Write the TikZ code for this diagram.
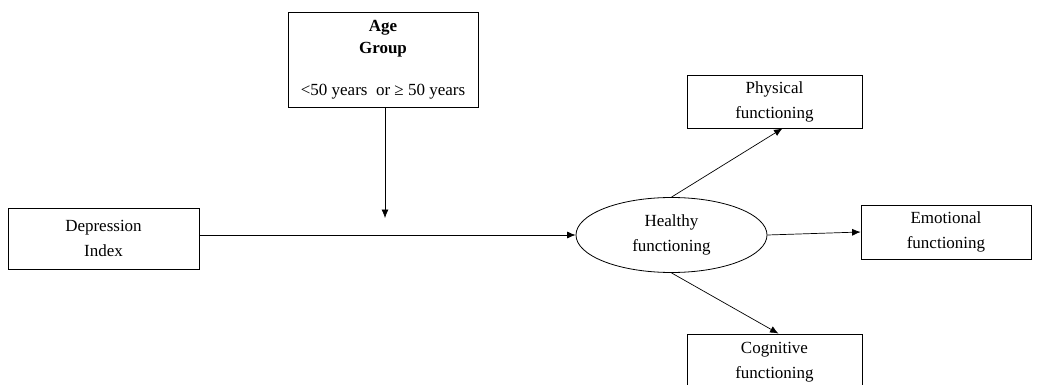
\documentclass[tikz,border=0pt]{standalone}
\usepackage{fontspec}
\setmainfont{Liberation Serif}
\usetikzlibrary{arrows.meta,shapes.geometric}
\begin{document}
\begin{tikzpicture}[x=1pt,y=-1pt,
  box/.style={draw=black,line width=0.8pt,align=center,inner sep=0pt,
    font=\fontsize{17}{25}\selectfont},
  conn/.style={line width=0.7pt,-{Latex[length=8.5pt,width=7pt]}}]
\useasboundingbox[fill=white] (0,0) rectangle (1039,385);
\node[box,minimum width=190pt,minimum height=95pt,font=\fontsize{17}{22}\selectfont] (age) at (383,59.5)
  {\textbf{Age}\\\textbf{Group}\\[20pt]<50 years\ \ or\ ≥ 50 years};
\node[box,minimum width=191pt,minimum height=61pt] (dep) at (103.5,238.5) {Depression\\Index};
\node[ellipse,draw=black,line width=0.8pt,minimum width=191pt,minimum height=75pt,inner sep=0pt,align=center,
  font=\fontsize{17}{25}\selectfont] (hf) at (671.5,235) {Healthy\\functioning};
\node[box,minimum width=175pt,minimum height=53pt] (phys) at (774.5,101.5) {Physical\\functioning};
\node[box,minimum width=170pt,minimum height=54pt] (emo) at (946,232) {Emotional\\functioning};
\node[box,minimum width=175pt,minimum height=56pt] (cog) at (774.5,362) {Cognitive\\functioning};
\coordinate (agetip) at (385,218);
\draw[conn] (age.south -| agetip) -- (agetip);
\draw[conn] (dep.east |- hf.west) -- (hf.west);
\draw[conn] (hf.north) -- ([xshift=8pt]phys.south);
\draw[conn] (hf.east) -- (emo.west);
\draw[conn] (hf.south) -- ([xshift=4pt]cog.north);
\end{tikzpicture}
\end{document}
